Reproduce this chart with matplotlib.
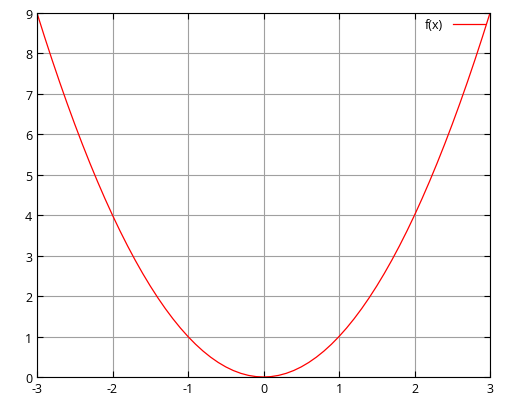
import matplotlib
matplotlib.use('Agg')
import matplotlib.pyplot as plt

plt.rcParams['font.family'] = ['Open Sans', 'DejaVu Sans']
plt.rcParams['axes.unicode_minus'] = False

# values
xs = [-3.0, -2.9, -2.8, -2.7, -2.6, -2.5, -2.4, -2.3, -2.2, -2.1, -2.0,
      -1.9, -1.8, -1.7, -1.6, -1.5, -1.4, -1.3, -1.2, -1.1, -1.0,
      -0.9, -0.8, -0.7, -0.6, -0.5, -0.4, -0.3, -0.2, -0.1, 0.0,
      0.1, 0.2, 0.3, 0.4, 0.5, 0.6, 0.7, 0.8, 0.9, 1.0,
      1.1, 1.2, 1.3, 1.4, 1.5, 1.6, 1.7, 1.8, 1.9, 2.0,
      2.1, 2.2, 2.3, 2.4, 2.5, 2.6, 2.7, 2.8, 2.9, 3.0]
ys = [9.0, 8.41, 7.84, 7.29, 6.76, 6.25, 5.76, 5.29, 4.84, 4.41, 4.0,
      3.61, 3.24, 2.89, 2.56, 2.25, 1.96, 1.69, 1.44, 1.21, 1.0,
      0.81, 0.64, 0.49, 0.36, 0.25, 0.16, 0.09, 0.04, 0.01, 0.0,
      0.01, 0.04, 0.09, 0.16, 0.25, 0.36, 0.49, 0.64, 0.81, 1.0,
      1.21, 1.44, 1.69, 1.96, 2.25, 2.56, 2.89, 3.24, 3.61, 4.0,
      4.41, 4.84, 5.29, 5.76, 6.25, 6.76, 7.29, 7.84, 8.41, 9.0]
xticks = [-3, -2, -1, 0, 1, 2, 3]
yticks = [0, 1, 2, 3, 4, 5, 6, 7, 8, 9]

fig = plt.figure(figsize=(5.12, 4.10), dpi=100)
ax = fig.add_axes([37/512, 1 - 378/410, 453/512, 364/410])

ax.plot(xs, ys, color='#ff0000', lw=0.9, label='f(x)')
ax.set_xlim(-3, 3)
ax.set_ylim(0, 9)
ax.set_xticks(xticks)
ax.set_yticks(yticks)
ax.grid(True, color='#a0a0a0', lw=0.8)
ax.tick_params(labelsize=9, length=4, direction='in', top=True, right=True)
for s in ax.spines.values():
    s.set_linewidth(0.8)

ax.legend(loc='upper right', frameon=False, markerfirst=False, fontsize=9,
          handlelength=2.6, borderaxespad=0.3, borderpad=0.1)

fig.savefig('out.png', dpi=100)
